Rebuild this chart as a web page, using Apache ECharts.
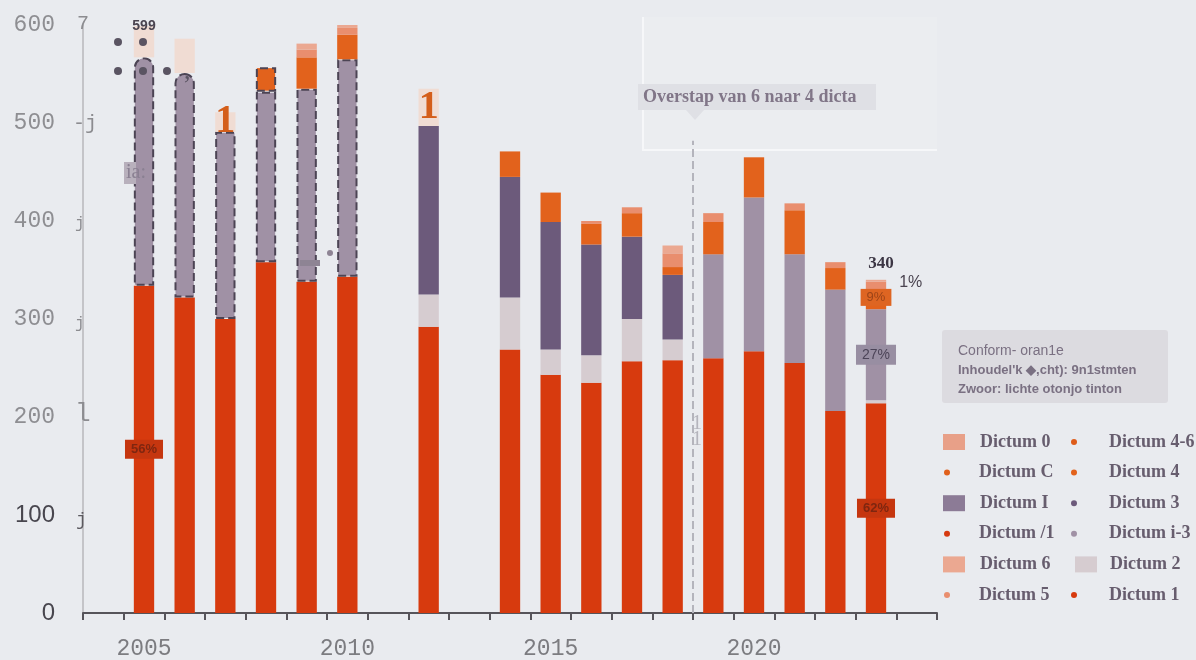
<!DOCTYPE html>
<html>
<head>
<meta charset="utf-8">
<title>Dicta per jaar</title>
<script src="https://cdn.jsdelivr.net/npm/echarts@6/dist/echarts.min.js"></script>
<style>
  html, body { margin: 0; padding: 0; background: #e9ebef; }
  #chart { width: 1196px; height: 660px; }
</style>
</head>
<body>
<div id="chart"></div>
<script>
// categorieën (jaren) en waarden per segment, van onder naar boven gestapeld
const years = ['2004', '2005', '2006', '2007', '2008', '2009', '2010', '2011', '2012', '2013', '2014',
  '2015', '2016', '2017', '2018', '2019', '2020', '2021', '2022', '2023', '2024']
const dictum1 = [null, 334, 322, 300, 358, 338, 343, null, 292, null, 269, 243, 235, 257, 258, 260, 267, 255, 206, 214, null]
const dictum2 = [null, 0, 0, 0, 0, 0, 0, null, 33, null, 53, 26, 28, 43, 21, 0, 0, 0, 0, 3, null]
const dictum3 = [null, 0, 0, 0, 0, 0, 0, null, 172, null, 123, 130, 113, 84, 66, 0, 0, 0, 0, 0, null]
const dictumI3 = [null, 233, 229, 191, 174, 197, 222, null, 0, null, 0, 0, 0, 0, 0, 106, 157, 111, 124, 93, null]
const dictum4 = [null, 0, 0, 0, 25, 32, 25, null, 0, null, 26, 30, 21, 24, 8, 33, 41, 45, 22, 18, null]
const dictum5 = [null, 0, 0, 0, 0, 8, 7, null, 0, null, 0, 0, 3, 6, 14, 9, 0, 7, 6, 10, null]
const dictum6 = [null, 32, 35, 20, 0, 6, 3, null, 38, null, 0, 0, 0, 0, 8, 0, 0, 0, 0, 2, null]
const yTicks = [0, 100, 200, 300, 400, 500, 600]
const switchYear = 2018.5 // overstap van 6 naar 4 dicta

const legendNames = ['Dictum 0', 'Dictum C', 'Dictum I', 'Dictum /1', 'Dictum 6', 'Dictum 5',
  'Dictum 4-6', 'Dictum 4', 'Dictum 3', 'Dictum i-3', 'Dictum 2', 'Dictum 1']

// teksten in de staven
const notes = [
  { series: 'Dictum 1', year: '2005', text: '56%', kind: 'pctRed' },
  { series: 'Dictum 1', year: '2023', text: '62%', kind: 'pctRed' },
  { series: 'Dictum i-3', year: '2023', text: '27%', kind: 'pctMauve' },
  { series: 'Dictum 4', year: '2023', text: '9%', kind: 'pctOrange' },
  { series: 'Dictum 5', year: '2023', text: '1%', kind: 'side' },
  { series: 'Dictum 6', year: '2005', text: '599', kind: 'totalSans' },
  { series: 'Dictum 6', year: '2023', text: '340', kind: 'totalSerif' },
  { series: 'Dictum 6', year: '2007', text: '1', kind: 'glyph' },
  { series: 'Dictum 6', year: '2012', text: '1', kind: 'glyph' }
]

const labelKinds = {
  pctRed: { show: true, position: 'inside', backgroundColor: '#c5360f', color: '#7e2610', fontSize: 13, fontWeight: 'bold', padding: [3, 6] },
  pctMauve: { show: true, position: 'inside', backgroundColor: '#988ea2', color: '#4c4458', fontSize: 14, padding: [3, 6] },
  pctOrange: { show: true, position: 'inside', offset: [0, -3], backgroundColor: '#de6522', color: '#9c4418', fontSize: 13, padding: [2, 6] },
  side: { show: true, position: 'right', distance: 13, offset: [0, -4], color: '#4a4450', fontSize: 16, fontFamily: 'Liberation Sans' },
  totalSans: { show: true, position: 'top', distance: -7, color: '#4a4450', fontSize: 14, fontWeight: 'bold', fontFamily: 'Liberation Sans' },
  totalSerif: { show: true, position: 'top', distance: 8, offset: [5, 0], color: '#3c3644', fontSize: 17, fontWeight: 'bold', fontFamily: 'Liberation Serif' },
  glyph: { show: true, position: 'inside', color: '#d45e1a', fontSize: 40, fontWeight: 'bold', fontFamily: 'Liberation Serif' }
}

const dashedYears = ['2005', '2006', '2007', '2008', '2009', '2010']
const roundYears = ['2005', '2006']
const paleYears = ['2005', '2006', '2007', '2012']

function buildData(name, values) {
  return values.map((v, i) => {
    const item = { value: v }
    const year = years[i]
    if (name === 'Dictum i-3' && dashedYears.includes(year)) {
      item.itemStyle = { borderColor: '#4c4454', borderWidth: 2, borderType: 'dashed' }
      if (roundYears.includes(year)) item.itemStyle.borderRadius = [11, 11, 0, 0]
    }
    if (name === 'Dictum 4' && year === '2008') {
      item.itemStyle = { borderColor: '#4c4454', borderWidth: 2, borderType: 'dashed' }
    }
    if (name === 'Dictum 6' && paleYears.includes(year)) {
      item.itemStyle = { color: '#f0dcd3' }
    }
    const note = notes.find(n => n.series === name && n.year === year)
    if (note) {
      item.label = Object.assign({ formatter: note.text }, labelKinds[note.kind])
    }
    return item
  })
}

const barDefs = [
  { name: 'Dictum 1', values: dictum1, color: '#d73a0e' },
  { name: 'Dictum 2', values: dictum2, color: '#d6ccd0' },
  { name: 'Dictum 3', values: dictum3, color: '#6c5a7b' },
  { name: 'Dictum i-3', values: dictumI3, color: '#a091a5' },
  { name: 'Dictum 4', values: dictum4, color: '#e2621c' },
  { name: 'Dictum 5', values: dictum5, color: '#e98e6e' },
  { name: 'Dictum 6', values: dictum6, color: '#eba891' },
  // alleen in de legenda
  { name: 'Dictum 0', values: [], color: '#e8a088' },
  { name: 'Dictum C', values: [], color: '#e0601c' },
  { name: 'Dictum I', values: [], color: '#8c7b96' },
  { name: 'Dictum /1', values: [], color: '#d63a10' },
  { name: 'Dictum 4-6', values: [], color: '#de5c1a' }
]

const series = barDefs.map(d => ({
  name: d.name,
  type: 'bar',
  stack: 'total',
  barWidth: '50%',
  itemStyle: { color: d.color },
  data: buildData(d.name, d.values)
}))

// gestippelde lijn bij de overstap
series.push({
  type: 'line',
  xAxisIndex: 1,
  data: [],
  markLine: {
    silent: true,
    symbol: 'none',
    label: { show: false },
    lineStyle: { color: '#b4b4bc', type: 'dashed', width: 2 },
    data: [[{ coord: [switchYear, 0] }, { coord: [switchYear, 482] }]]
  }
})

// legenda: twee kolommen van zes, elk item apart geplaatst
const squares = ['Dictum 0', 'Dictum I', 'Dictum 6', 'Dictum 2']
const legends = legendNames.map((name, i) => {
  const col = i < 6 ? 0 : 1
  const row = i % 6
  const isSquare = squares.includes(name)
  let left, pad
  if (col === 0) {
    left = isSquare ? 943 : 944
    pad = isSquare ? 10 : 23
  } else {
    left = isSquare ? 1075 : 1071
    pad = isSquare ? 8 : 26
  }
  return {
    data: [name],
    left: left,
    top: 442 + row * 30.6 - 10,
    padding: 0,
    icon: isSquare ? 'rect' : 'circle',
    itemWidth: isSquare ? 22 : 8,
    itemHeight: isSquare ? 16 : 6,
    selectedMode: false,
    textStyle: {
      fontFamily: 'Liberation Serif',
      fontWeight: 'bold',
      fontSize: 18,
      lineHeight: 20,
      color: '#675d6e',
      padding: [0, 0, 0, pad]
    }
  }
})

const greyText = (x, y, text, size, color, family) => ({
  type: 'text',
  x: x,
  y: y,
  z: 100,
  style: { text: text, fill: color, font: size + 'px "' + family + '"', verticalAlign: 'middle' }
})

const dot = (cx, cy, r, color) => ({ type: 'circle', z: 100, shape: { cx: cx, cy: cy, r: r }, style: { fill: color } })

const graphic = [
  // kader en tekstballon "Overstap"
  { type: 'rect', shape: { x: 643, y: 17, width: 294, height: 133 }, style: { fill: 'rgba(255,255,255,0.1)' } },
  { type: 'polyline', shape: { points: [[643, 17], [643, 150], [937, 150]] }, style: { stroke: '#f6f7f9', lineWidth: 2, fill: null } },
  { type: 'rect', shape: { x: 638, y: 84, width: 238, height: 26 }, style: { fill: '#dfe0e5' } },
  { type: 'polygon', shape: { points: [[686, 110], [704, 110], [695, 120]] }, style: { fill: '#dfe0e5' } },
  {
    type: 'text', x: 643, y: 97,
    style: { text: 'Overstap van 6 naar 4 dicta', fill: '#817688', font: 'bold 18px "Liberation Serif"', verticalAlign: 'middle' }
  },
  // kader met toelichting
  { type: 'rect', shape: { x: 942, y: 330, width: 226, height: 73, r: 3 }, style: { fill: '#dcdbe0' } },
  greyText(958, 351, 'Conform- oran1e', 14, '#7a7082', 'Liberation Sans'),
  {
    type: 'text', x: 958, y: 370,
    style: { text: "Inhoudel'k \u25C6,cht): 9n1stmten", fill: '#7a7082', font: 'bold 13px "Liberation Sans"', verticalAlign: 'middle' }
  },
  {
    type: 'text', x: 958, y: 389,
    style: { text: 'Zwoor: lichte otonjo tinton', fill: '#7a7082', font: 'bold 13px "Liberation Sans"', verticalAlign: 'middle' }
  },
  // losse tekens langs de as en in de staven
  greyText(77, 24, '7', 20, '#8c8c90', 'Liberation Mono'),
  greyText(73, 124, '-j', 20, '#8c8c90', 'Liberation Mono'),
  greyText(75, 224, 'j', 16, '#8c8c90', 'Liberation Mono'),
  greyText(75, 324, 'j', 16, '#8c8c90', 'Liberation Mono'),
  greyText(75, 414, 'l', 26, '#8c8c90', 'Liberation Mono'),
  greyText(76, 520, 'j', 18, '#5c5a60', 'Liberation Mono'),
  { type: 'rect', z: 99, shape: { x: 124, y: 162, width: 12, height: 22 }, style: { fill: '#b8b0bc' } },
  greyText(126, 173, 'ia:', 20, '#8a8092', 'Liberation Serif'),
  greyText(692, 424, '1', 20, '#b4b4bc', 'Liberation Serif'),
  greyText(692, 440, '1', 20, '#b4b4bc', 'Liberation Serif'),
  dot(118, 42, 4, '#5a5462'),
  dot(143, 42, 4, '#5a5462'),
  dot(118, 71, 4, '#5a5462'),
  dot(143, 71, 4, '#5a5462'),
  dot(167, 71, 4, '#5a5462'),
  greyText(184, 72, ',', 26, '#5a5462', 'Liberation Serif'),
  { type: 'rect', z: 100, shape: { x: 300, y: 260, width: 20, height: 6 }, style: { fill: '#8e8494' } },
  dot(330, 253, 3, '#8e8494')
]

const chart = echarts.init(document.getElementById('chart'))
chart.setOption({
  backgroundColor: '#e9ebef',
  animation: false,
  grid: { left: 83, right: 259, top: 25, bottom: 47 },
  legend: legends,
  xAxis: [
    {
      type: 'category',
      data: years,
      axisLine: { lineStyle: { color: '#56545a', width: 2 } },
      axisTick: { show: true, inside: false, interval: 0, length: 7, lineStyle: { color: '#56545a', width: 2 } },
      axisLabel: {
        interval: (idx, val) => Number(val) % 5 === 0,
        margin: 24,
        fontFamily: 'Liberation Mono',
        fontSize: 23,
        color: '#7c7c80'
      }
    },
    { type: 'value', min: 2003.5, max: 2024.5, show: false }
  ],
  yAxis: {
    type: 'value',
    min: yTicks[0],
    max: yTicks[yTicks.length - 1],
    interval: 100,
    splitLine: { show: false },
    axisTick: { show: false },
    axisLine: { show: true, lineStyle: { color: '#c4c4c8', width: 2 } },
    axisLabel: {
      margin: 28,
      formatter: v => (v <= 100 ? '{dark|' + v + '}' : '{light|' + v + '}'),
      rich: {
        light: { fontFamily: 'Liberation Mono', fontSize: 23, color: '#8e8e92' },
        dark: { fontFamily: 'Liberation Sans', fontSize: 24, color: '#48464e' }
      }
    }
  },
  series: series,
  graphic: graphic
})
</script>
</body>
</html>
